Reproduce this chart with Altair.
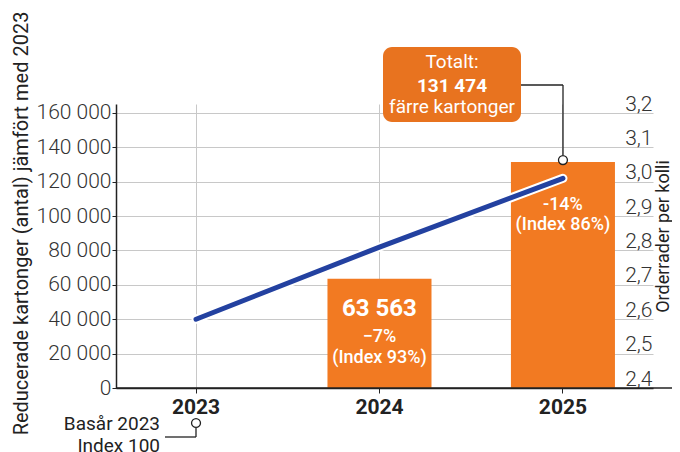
import altair as alt
import pandas as pd

# ---- data ----
years = ["2023", "2024", "2025"]
reduced_cartons = [0, 63563, 131474]          # left axis (bars)
order_lines_per_parcel = [2.6, 2.81, 3.01]    # right axis (line)
value_labels = ["", "63 563", ""]
change_labels = ["", "−7%", "-14%"]
index_labels = ["", "(Index 93%)", "(Index 86%)"]
callout_lines = ["Totalt:", "131 474", "färre kartonger"]
base_lines = ["Basår 2023", "Index 100"]
left_ticks = [0, 20000, 40000, 60000, 80000, 100000, 120000, 140000, 160000]
right_ticks = [2.4, 2.5, 2.6, 2.7, 2.8, 2.9, 3.0, 3.1, 3.2]

df = pd.DataFrame({
    "year": years,
    "reduced": reduced_cartons,
    "orderrader": order_lines_per_parcel,
    "vlabel": value_labels,
    "clabel": change_labels,
    "ilabel": index_labels,
})
one = pd.DataFrame({"k": [0]})

W, H = 537, 284
FONT = "Roboto"
ORANGE = "#F27A22"
BOX = "#E8731F"
BLUE = "#2341A0"
INK = "#222222"
LAB = "#333333"
GRID = "#c8c8c8"

x_enc = alt.X(
    "year:N",
    scale=alt.Scale(domain=years, paddingInner=0.433, paddingOuter=0.18, align=0.424),
    axis=alt.Axis(
        title=None, labelAngle=0, labelFont=FONT, labelFontSize=21, labelFontWeight="bold",
        labelColor=INK, labelPadding=3, domainColor=INK, domainWidth=1.5,
        tickColor=INK, tickSize=5, grid=True, gridColor=GRID, bandPosition=0.5,
    ),
)

y_left = alt.Y(
    "reduced:Q",
    scale=alt.Scale(domain=[0, 165236], nice=False),
    axis=alt.Axis(
        values=left_ticks,
        labelExpr="replace(format(datum.value, ','), ',', ' ')",
        labelFont=FONT, labelFontSize=21, labelFontWeight=300, labelColor=LAB, labelPadding=1,
        tickSize=4, tickColor=INK, domainColor=INK, domainWidth=1.5,
        grid=True, gridColor=GRID,
        title="Reducerade kartonger (antal) jämfört med 2023",
        titleFont=FONT, titleFontSize=20, titleFontWeight="normal", titleColor=INK,
        titleAngle=270, titleAlign="center", titleBaseline="middle",
        titleX=-95, titleY=119,
    ),
)

y_right = alt.Y(
    "orderrader:Q",
    scale=alt.Scale(domain=[2.4, 3.2262], nice=False, zero=False),
    axis=alt.Axis(
        orient="right", values=right_ticks,
        labelExpr="replace(format(datum.value, '.1f'), '.', ',')",
        labelAlign="right", labelBaseline="alphabetic", labelOffset=-3,
        labelPadding=-1, ticks=False, tickSize=0, domain=False, grid=False,
        labelFont=FONT, labelFontSize=21, labelFontWeight=300, labelColor=LAB,
        title="Orderrader per kolli",
        titleFont=FONT, titleFontSize=18, titleFontWeight="normal", titleColor=INK,
        titleAngle=270, titleAlign="center", titleBaseline="middle",
        titleX=10, titleY=132,
    ),
)

bars = alt.Chart(df).mark_bar(color=ORANGE).encode(x=x_enc, y=y_left)


def bar_text(year, field, dy, size, weight):
    return (
        alt.Chart(df)
        .transform_filter(alt.datum.year == year)
        .mark_text(dy=dy, font=FONT, fontSize=size, fontWeight=weight, color="white", baseline="middle")
        .encode(x=x_enc, y=y_left, text=f"{field}:N")
    )


texts = [
    bar_text("2024", "vlabel", 30, 24, "bold"),
    bar_text("2024", "clabel", 58, 18, 500),
    bar_text("2024", "ilabel", 79, 18, 500),
    bar_text("2025", "clabel", 43, 18, 500),
    bar_text("2025", "ilabel", 63, 18, 500),
]

# callout box (annotation)
box = alt.Chart(one).mark_rect(color=BOX, cornerRadius=9).encode(
    x=alt.value(267), x2=alt.value(405), y=alt.value(-57), y2=alt.value(18)
)
callout = [
    alt.Chart(one).mark_text(font=FONT, fontSize=19, fontWeight=w, color="white", baseline="middle").encode(
        x=alt.value(336), y=alt.value(yy), text=alt.value(t)
    )
    for t, yy, w in zip(callout_lines, [-42, -18, 3], ["normal", "bold", "normal"])
]
conn_h = alt.Chart(one).mark_rule(color=INK, strokeWidth=1.3).encode(
    x=alt.value(405), x2=alt.value(447), y=alt.value(-19)
)
conn_v = alt.Chart(one).mark_rule(color=INK, strokeWidth=1.3).encode(
    x=alt.value(447), y=alt.value(-19), y2=alt.value(51)
)
top_dot = (
    alt.Chart(df)
    .transform_filter(alt.datum.year == "2025")
    .mark_point(shape="circle", filled=True, fill="white", stroke=INK, strokeWidth=1.3, size=80, opacity=1, yOffset=-2)
    .encode(x=x_enc, y=y_left)
)

# base-year annotation
base_dot = (
    alt.Chart(df)
    .transform_filter(alt.datum.year == "2023")
    .mark_point(shape="circle", filled=True, fill="white", stroke=INK, strokeWidth=1.3, size=80, opacity=1)
    .encode(x=x_enc, y=alt.value(319))
)
base_v = alt.Chart(one).mark_rule(color=INK, strokeWidth=1.3).encode(
    x=alt.value(80), y=alt.value(324), y2=alt.value(333)
)
base_h = alt.Chart(one).mark_rule(color=INK, strokeWidth=1.3).encode(
    x=alt.value(49), x2=alt.value(80), y=alt.value(333)
)
base_text = [
    alt.Chart(one).mark_text(font=FONT, fontSize=19, color=INK, align="right", baseline="middle").encode(
        x=alt.value(44), y=alt.value(yy), text=alt.value(t)
    )
    for t, yy in zip(base_lines, [320, 342])
]

axis_ext = alt.Chart(one).mark_rule(color=INK, strokeWidth=1.5).encode(
    x=alt.value(0), x2=alt.value(556), y=alt.value(H)
)

left = alt.layer(
    bars, *texts, axis_ext, box, *callout, conn_h, conn_v, top_dot,
    base_v, base_h, base_dot, *base_text,
)

halo = alt.Chart(df).mark_line(color="white", strokeWidth=9, strokeCap="round").encode(x=x_enc, y=y_right)
line = alt.Chart(df).mark_line(color=BLUE, strokeWidth=5, strokeCap="round").encode(x=x_enc, y=y_right)
right = alt.layer(halo, line)

chart = (
    alt.layer(left, right)
    .resolve_scale(y="independent")
    .properties(
        width=W, height=H, autosize="none",
        padding={"left": 108, "top": 96, "right": 19, "bottom": 64},
    )
    .configure(font=FONT)
    .configure_view(stroke=None)
)

chart.save("out.html", embed_options={"renderer": "svg", "actions": False})
